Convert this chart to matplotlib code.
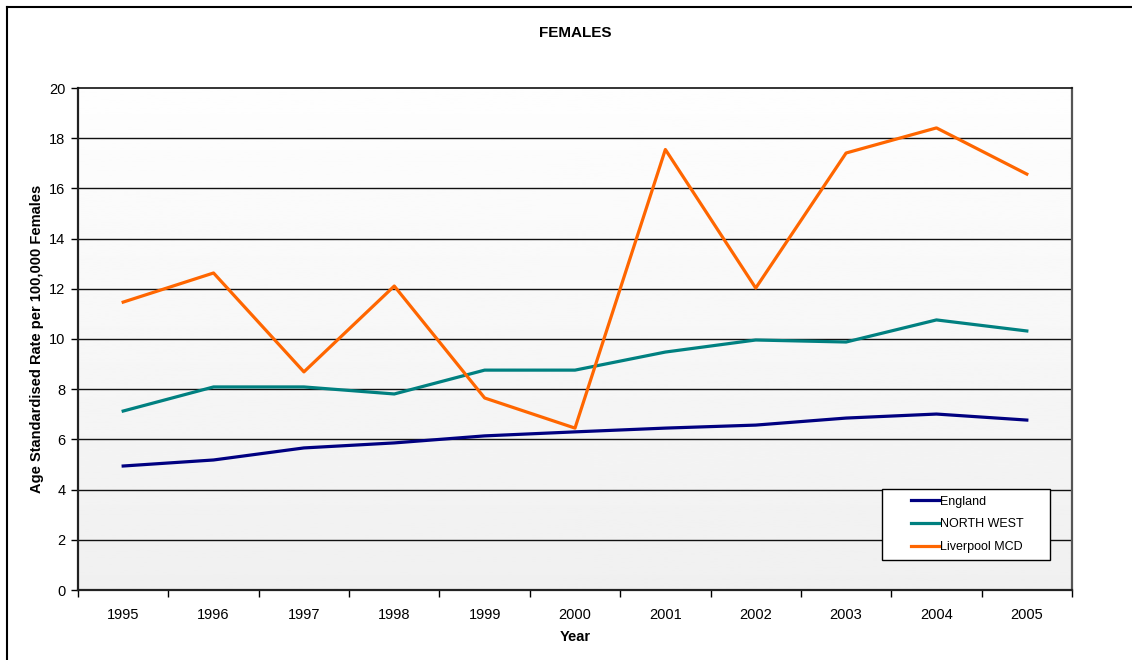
import numpy as np
import matplotlib
matplotlib.use('Agg')
import matplotlib.pyplot as plt
from matplotlib.legend_handler import HandlerLine2D
from matplotlib.lines import Line2D

plt.rcParams['font.family'] = ['Liberation Sans', 'DejaVu Sans']

# data
years = ['1995', '1996', '1997', '1998', '1999', '2000', '2001', '2002', '2003', '2004', '2005']
england = [4.94, 5.18, 5.66, 5.86, 6.14, 6.30, 6.45, 6.57, 6.85, 7.01, 6.77]
north_west = [7.13, 8.09, 8.09, 7.81, 8.76, 8.76, 9.48, 9.96, 9.88, 10.76, 10.32]
liverpool = [11.47, 12.63, 8.69, 12.11, 7.65, 6.45, 17.55, 12.03, 17.41, 18.41, 16.57]

fig = plt.figure(figsize=(11.32, 6.6), dpi=100)
ax = fig.add_axes([78 / 1132, 70 / 660, 994 / 1132, 502 / 660])

# gradient background of the plot area
grad = np.linspace(0.94, 0.995, 256).reshape(-1, 1)
ax.imshow(grad, cmap='gray', vmin=0, vmax=1, aspect='auto', origin='lower',
          extent=[0, 1, 0, 1], transform=ax.transAxes, zorder=0)

x = np.arange(len(years))
ax.plot(x, england, color='#000080', lw=2.3, label='England', zorder=3)
ax.plot(x, north_west, color='#008080', lw=2.3, label='NORTH WEST', zorder=3)
ax.plot(x, liverpool, color='#FF6600', lw=2.3, label='Liverpool MCD', zorder=3)

ax.set_xlim(-0.5, len(years) - 0.5)
ax.set_ylim(0, 20)
ax.set_yticks(range(0, 21, 2))
ax.set_xticks(np.arange(-0.5, len(years), 1))
ax.set_xticklabels([])
ax.set_xticks(x, minor=True)
ax.set_xticklabels(years, minor=True)
ax.tick_params(axis='x', which='major', direction='out', length=5, width=1, color='black')
ax.tick_params(axis='x', which='minor', length=0, pad=13, labelsize=10.5)
ax.tick_params(axis='y', direction='out', length=5, width=1, pad=4, labelsize=10.5)

for yv in range(2, 20, 2):
    ax.axhline(yv, color='#111111', lw=1, zorder=1)

for side in ['left', 'bottom']:
    ax.spines[side].set_color('#222222')
    ax.spines[side].set_linewidth(1.6)
ax.spines['top'].set_color('#111111')
ax.spines['top'].set_linewidth(1.2)
ax.spines['right'].set_color('#555555')
ax.spines['right'].set_linewidth(1.6)

ax.set_xlabel('Year', fontsize=10.5, fontweight='bold', labelpad=6)
ax.set_ylabel('Age Standardised Rate per 100,000 Females', fontsize=10.5,
              fontweight='bold', labelpad=4)
fig.text(575 / 1132, 1 - 33 / 660, 'FEMALES', ha='center', va='center',
         fontsize=11, fontweight='bold')

fs = 9
leg = ax.legend(loc='lower left', bbox_to_anchor=(804 / 994, 30 / 502, 168 / 994, 72 / 502),
                mode='expand', fontsize=fs, frameon=True, fancybox=False,
                framealpha=1, edgecolor='black', borderpad=0.55, labelspacing=0.86,
                handlelength=4.0, handletextpad=0.1, borderaxespad=0,
                handler_map={Line2D: HandlerLine2D(xpad=1.76)})
leg.get_frame().set_linewidth(1)
leg.set_zorder(5)

# outer chart frame (left and top edges visible)
fig.add_artist(Line2D([7 / 1132, 7 / 1132], [0, 1 - 7 / 660], color='black', lw=1.5))
fig.add_artist(Line2D([7 / 1132, 1], [1 - 7 / 660, 1 - 7 / 660], color='black', lw=1.5))

fig.savefig('out.png', dpi=100)
